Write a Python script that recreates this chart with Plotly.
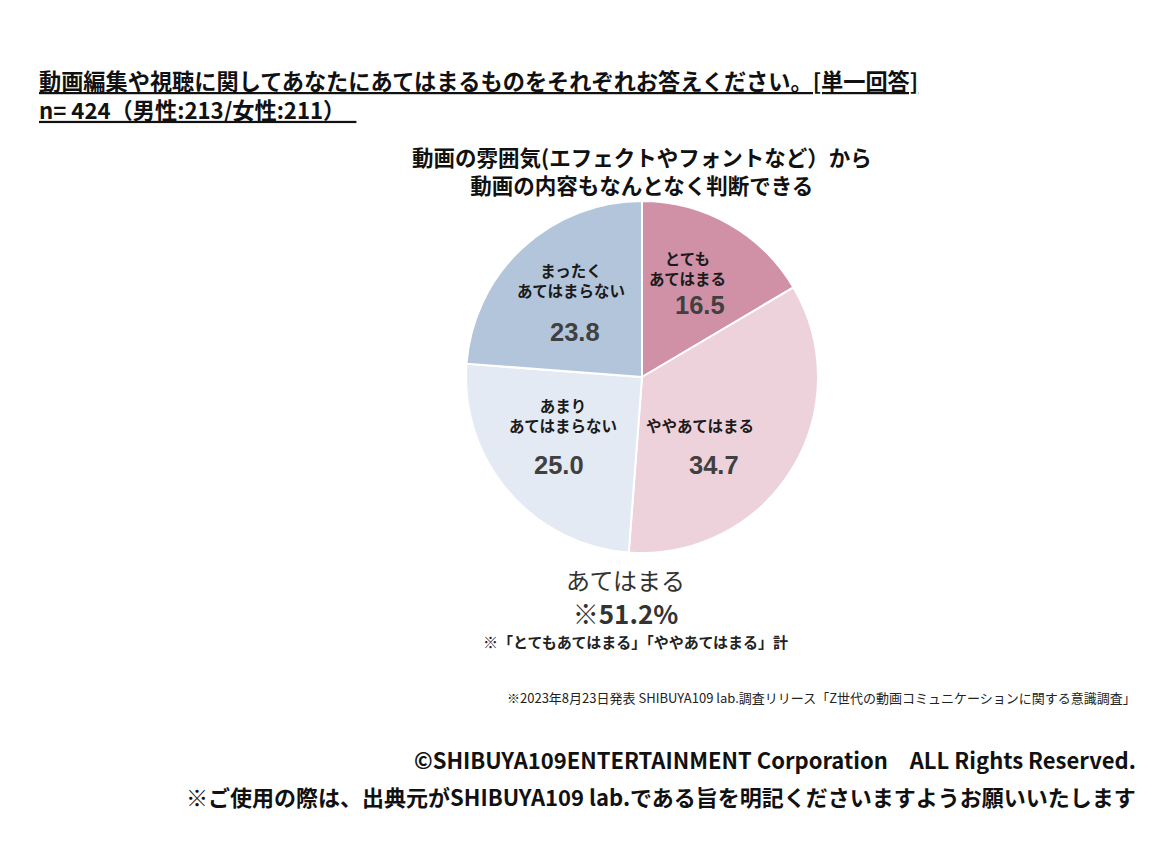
import plotly.graph_objects as go

W, H = 1160, 841
OFF = 8  # page body margin

categories = ["とても<br>あてはまる", "ややあてはまる", "あまり<br>あてはまらない", "まったく<br>あてはまらない"]
values = [16.5, 34.7, 25.0, 23.8]
colors = ["#D090A5", "#EDD2DC", "#E3EAF4", "#B3C5DB"]

title_line1 = "動画編集や視聴に関してあなたにあてはまるものをそれぞれお答えください。[単一回答]"
title_line2 = "n= 424（男性:213/女性:211）"
chart_title = "動画の雰囲気(エフェクトやフォントなど）から<br>動画の内容もなんとなく判断できる"
total_label = "あてはまる"
total_value = "※51.2%"
total_note = "※「とてもあてはまる」「ややあてはまる」計"
source_note = "※2023年8月23日発表 SHIBUYA109 lab.調査リリース「Z世代の動画コミュニケーションに関する意識調査」"
footer1 = "©SHIBUYA109ENTERTAINMENT Corporation　ALL Rights Reserved."
footer2 = "※ご使用の際は、出典元がSHIBUYA109 lab.である旨を明記くださいますようお願いいたします"

JP = "Noto Sans CJK JP"
NUM = "Liberation Sans, Arial"

def px(x):
    return (x - OFF) / W

def py(y):
    return 1 - (y - OFF) / H

cx, cy, r = 642, 377, 176

fig = go.Figure(go.Pie(
    values=values,
    labels=categories,
    sort=False,
    direction="clockwise",
    rotation=0,
    marker=dict(colors=colors, line=dict(color="white", width=2)),
    textinfo="none",
    hoverinfo="label+value",
    showlegend=False,
    domain=dict(x=[px(cx - r), px(cx + r)], y=[py(cy + r), py(cy - r)]),
))

anns = []
def add(text, x, y, size, color="#222", family=JP, xanchor="center", bold=False, align="center"):
    t = f"<b>{text}</b>" if bold else text
    anns.append(dict(text=t, x=px(x), y=py(y), xref="paper", yref="paper",
                     showarrow=False, xanchor=xanchor, yanchor="middle", align=align,
                     font=dict(size=size, color=color, family=family)))

# Titles
add(f"<u>{title_line1}</u><br><u>{title_line2}　</u>", 37, 95, 22.2, "#111",
    xanchor="left", bold=True, align="left")
add(chart_title, 642, 171, 21.5, "#111", bold=True)

# Slice labels
label_pos = [(688, 268), (700, 425), (563, 415), (571, 280)]
value_pos = [(700, 305), (714, 465), (559, 465), (575, 332)]
for cat, v, (lx, ly), (vx, vy) in zip(categories, values, label_pos, value_pos):
    add(cat, lx, ly, 15.5, "#1a1a1a", bold=True)
    add(f"{v:.1f}", vx, vy, 25.5, "#404040", family=NUM, bold=True)

# Totals
add(f"<span style='font-size:24px'>{total_label}</span><br><b>{total_value}</b>",
    625, 596, 26, "#333")
add(total_note, 635, 641, 15, "#222", bold=True)

# Source & footer
add(source_note, 1138, 697, 13, "#222", xanchor="right")
add(footer1, 1138, 759, 22, "#111", xanchor="right", bold=True)
add(footer2, 1138, 796, 22, "#111", xanchor="right", bold=True)

fig.update_layout(
    width=W, height=H,
    margin=dict(l=0, r=0, t=0, b=0),
    paper_bgcolor="white", plot_bgcolor="white",
    annotations=anns,
    font=dict(family=JP),
)

fig.write_html("out.html")
